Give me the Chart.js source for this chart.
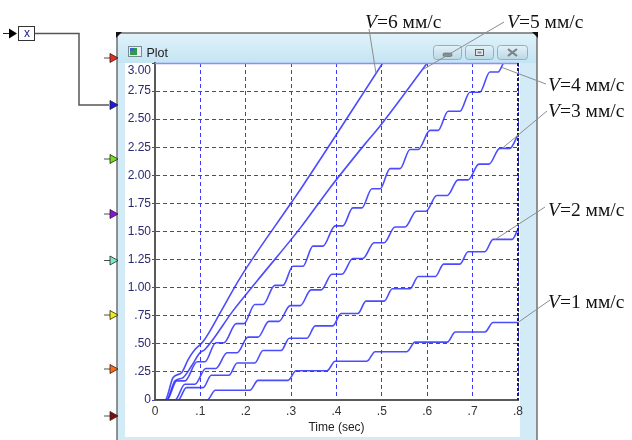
<!DOCTYPE html>
<html>
<head>
<meta charset="utf-8">
<script src="https://cdn.jsdelivr.net/npm/chart.js@4.4.0/dist/chart.umd.min.js"></script>
<style>
  html, body { margin: 0; padding: 0; background: #fff; }
  body { width: 632px; height: 440px; position: relative; overflow: hidden; font-family: "Liberation Sans", Arial, sans-serif; }
  #deco { position: absolute; left: 0; top: 0; z-index: 0; }
  #plot { position: absolute; left: 0; top: 0; z-index: 2; }
  .lbl { position: absolute; z-index: 3; white-space: nowrap; font-family: "Liberation Serif", "Times New Roman", serif; font-size: 19.5px; line-height: 20px; color: #111; }
  .txt { position: absolute; z-index: 3; white-space: nowrap; }
</style>
</head>
<body>
<svg id="deco" width="632" height="440">
  <defs>
    <linearGradient id="tbar" x1="0" y1="0" x2="0" y2="1">
      <stop offset="0" stop-color="#e0f2fa"/><stop offset="1" stop-color="#c4e4f2"/>
    </linearGradient>
    <linearGradient id="btn" x1="0" y1="0" x2="0" y2="1">
      <stop offset="0" stop-color="#e4f2f8"/><stop offset="1" stop-color="#b9d8e6"/>
    </linearGradient>
  </defs>
  <!-- source block -->
  <line x1="3" y1="33.5" x2="10" y2="33.5" stroke="#222" stroke-width="1"/>
  <polygon points="9,28.5 17,33.5 9,38.5" fill="#000"/>
  <rect x="18.5" y="26.5" width="16" height="14" fill="#fff" stroke="#333" stroke-width="1"/>
  <polyline points="34.5,33.5 79,33.5 79,105 109,105" fill="none" stroke="#555" stroke-width="1.5"/>
  <!-- scope window -->
  <rect x="117" y="33" width="420" height="420" fill="#d2ebf7" stroke="#707070" stroke-width="1.5"/>
  <rect x="118" y="34" width="418" height="29" fill="url(#tbar)"/>
  <rect x="125" y="63" width="395" height="374" fill="#fff"/>
  <polygon points="116,32 122,32 116,38" fill="#111"/>
  <polygon points="538,32 532,32 538,38" fill="#111"/>
  <!-- title icon -->
  <rect x="128.5" y="46.5" width="13" height="10" fill="#e8eef2" stroke="#7a8a94"/>
  <rect x="130" y="48" width="7" height="7" fill="#2f9a4a"/>
  <rect x="130" y="48" width="4" height="3" fill="#3a64c8"/>
  <!-- window buttons -->
  <rect x="433.5" y="45.5" width="28" height="14" rx="3" fill="url(#btn)" stroke="#8fb0c0"/>
  <rect x="443" y="53" width="9" height="3.5" rx="1.5" fill="#8a8f94" stroke="#5d6368" stroke-width="0.6"/>
  <rect x="465.5" y="45.5" width="28" height="14" rx="3" fill="url(#btn)" stroke="#8fb0c0"/>
  <rect x="475.5" y="49.5" width="8" height="6" fill="#e8e8e8" stroke="#5d6368"/>
  <rect x="477.5" y="51.5" width="4" height="2" fill="#8a8f94"/>
  <rect x="497.5" y="45.5" width="30" height="14" rx="3" fill="url(#btn)" stroke="#8fb0c0"/>
  <path d="M508 49 L517 56 M517 49 L508 56" stroke="#7d8387" stroke-width="2.2"/>
  <!-- input ports -->
  <g stroke="#222" stroke-width="0.8">
    <line x1="104" y1="58" x2="110" y2="58"/><polygon points="110,53.5 118,58 110,62.5" fill="#ee2a1a"/>
    <line x1="104" y1="105" x2="110" y2="105" stroke="none"/><polygon points="110,100.5 118,105 110,109.5" fill="#1a1ae6"/>
    <line x1="104" y1="159" x2="110" y2="159"/><polygon points="110,154.5 118,159 110,163.5" fill="#6fe01a"/>
    <line x1="104" y1="214" x2="110" y2="214"/><polygon points="110,209.5 118,214 110,218.5" fill="#8d10d8"/>
    <line x1="104" y1="260.5" x2="110" y2="260.5"/><polygon points="110,256 118,260.5 110,265" fill="#7fe8c8"/>
    <line x1="104" y1="315" x2="110" y2="315"/><polygon points="110,310.5 118,315 110,319.5" fill="#eeee10"/>
    <line x1="104" y1="369" x2="110" y2="369"/><polygon points="110,364.5 118,369 110,373.5" fill="#ff6a10"/>
    <line x1="104" y1="416" x2="110" y2="416"/><polygon points="110,411.5 118,416 110,420.5" fill="#8a0a0a"/>
  </g>
</svg>

<canvas id="plot" width="632" height="440"></canvas>

<div class="txt" style="left:24px;top:27px;font-size:12px;line-height:12px;color:#1a1a90;">x</div>
<div class="txt" style="left:146.5px;top:46.5px;font-size:12.5px;line-height:13px;color:#222;">Plot</div>

<div class="lbl" style="left:365px;top:11.5px;"><i>V</i>=6 мм/с</div>
<div class="lbl" style="left:507px;top:11.5px;"><i>V</i>=5 мм/с</div>
<div class="lbl" style="left:548px;top:75px;"><i>V</i>=4 мм/с</div>
<div class="lbl" style="left:548px;top:101px;"><i>V</i>=3 мм/с</div>
<div class="lbl" style="left:548px;top:199.5px;"><i>V</i>=2 мм/с</div>
<div class="lbl" style="left:548px;top:291.5px;"><i>V</i>=1 мм/с</div>

<script>
// scope traces: [time (sec), position]
const curveV1 = [[0,0],[0.115,0],[0.133,0.087],[0.209,0.087],[0.227,0.175],[0.293,0.175],[0.311,0.26],[0.379,0.26],[0.397,0.345],[0.467,0.345],[0.485,0.43],[0.555,0.43],[0.573,0.515],[0.644,0.515],[0.662,0.605],[0.727,0.605],[0.745,0.69],[0.8,0.69]];
const curveV2 = [[0,0],[0.051,0],[0.069,0.11],[0.106,0.11],[0.124,0.22],[0.163,0.22],[0.181,0.33],[0.220,0.33],[0.238,0.44],[0.278,0.44],[0.296,0.55],[0.335,0.55],[0.353,0.66],[0.392,0.66],[0.410,0.77],[0.447,0.77],[0.465,0.88],[0.505,0.88],[0.523,0.99],[0.562,0.99],[0.580,1.10],[0.618,1.10],[0.636,1.21],[0.672,1.21],[0.690,1.32],[0.727,1.32],[0.745,1.43],[0.787,1.43],[0.8,1.52]];
const curveV3 = [[0,0],[0.044,0],[0.066,0.14],[0.088,0.14],[0.112,0.28],[0.134,0.28],[0.159,0.42],[0.181,0.42],[0.205,0.56],[0.227,0.56],[0.251,0.70],[0.273,0.70],[0.298,0.84],[0.320,0.84],[0.344,0.98],[0.366,0.98],[0.390,1.12],[0.412,1.12],[0.436,1.26],[0.458,1.26],[0.483,1.40],[0.505,1.40],[0.529,1.54],[0.551,1.54],[0.576,1.68],[0.597,1.68],[0.621,1.82],[0.644,1.82],[0.668,1.96],[0.690,1.96],[0.714,2.10],[0.736,2.10],[0.760,2.24],[0.782,2.24],[0.8,2.36]];
const curveV4 = [[0,0],[0.026,0],[0.048,0.17],[0.066,0.17],[0.093,0.34],[0.110,0.34],[0.134,0.51],[0.152,0.51],[0.179,0.68],[0.196,0.68],[0.220,0.85],[0.238,0.85],[0.264,1.02],[0.282,1.02],[0.304,1.19],[0.326,1.19],[0.348,1.37],[0.370,1.37],[0.397,1.55],[0.414,1.55],[0.436,1.71],[0.456,1.71],[0.478,1.88],[0.496,1.88],[0.518,2.06],[0.540,2.06],[0.562,2.23],[0.580,2.23],[0.606,2.40],[0.624,2.40],[0.646,2.57],[0.672,2.57],[0.694,2.74],[0.716,2.74],[0.738,2.92],[0.756,2.92],[0.768,3.0]];
const curveV5 = [[0,0],[0.025,0],[0.044,0.17],[0.062,0.20],[0.080,0.30],[0.099,0.42],[0.110,0.45],[0.173,0.80],[0.227,1.07],[0.320,1.53],[0.386,1.89],[0.463,2.28],[0.496,2.44],[0.600,3.0]];
const curveV6 = [[0,0],[0.022,0],[0.040,0.20],[0.059,0.245],[0.073,0.36],[0.088,0.45],[0.106,0.52],[0.147,0.80],[0.185,1.07],[0.301,1.76],[0.323,1.89],[0.502,3.0]];

const seriesNames = ['V=1 мм/с', 'V=2 мм/с', 'V=3 мм/с', 'V=4 мм/с', 'V=5 мм/с', 'V=6 мм/с'];
const xTickLabels = ['0', '.1', '.2', '.3', '.4', '.5', '.6', '.7', '.8'];
const yTickLabels = ['0', '.25', '.50', '.75', '1.00', '1.25', '1.50', '1.75', '2.00', '2.25', '2.50', '2.75', '3.00'];

// where each callout line touches its trace
const leaderTargets = [[0.8, 0.69], [0.75, 1.43], [0.765, 2.24], [0.765, 2.96], [0.59, 2.94], [0.487, 2.91]];
// where each callout line leaves its label (page pixels)
const leaderStarts = [[550, 300], [545, 207], [547, 111], [546, 84], [504, 22], [369, 29]];

const curves = [curveV1, curveV2, curveV3, curveV4, curveV5, curveV6];
const gridBlue = '#3a3aff';
const tickFont = { family: '"Liberation Sans", Arial, sans-serif', size: 12 };

const scopeFrame = {
  id: 'scopeFrame',
  afterDraw(chart) {
    const { ctx, chartArea: a, scales: { x, y } } = chart;
    ctx.save();
    // top and right edges of the plot box
    ctx.strokeStyle = '#8d8dff';
    ctx.lineWidth = 1.5;
    ctx.beginPath(); ctx.moveTo(a.left, a.top + 0.5); ctx.lineTo(a.right, a.top + 0.5); ctx.stroke();
    ctx.strokeStyle = '#1e1e55';
    ctx.lineWidth = 2;
    ctx.setLineDash([3, 2]);
    ctx.beginPath(); ctx.moveTo(a.right, a.top); ctx.lineTo(a.right, a.bottom); ctx.stroke();
    ctx.setLineDash([]);
    // callout lines
    ctx.strokeStyle = '#8c8c8c';
    ctx.lineWidth = 1;
    leaderTargets.forEach(([t, v], i) => {
      const [sx, sy] = leaderStarts[i];
      ctx.beginPath();
      ctx.moveTo(sx, sy);
      ctx.lineTo(x.getPixelForValue(t), y.getPixelForValue(v));
      ctx.stroke();
    });
    ctx.restore();
  }
};

new Chart(document.getElementById('plot'), {
  type: 'line',
  data: {
    datasets: curves.map((pts, i) => ({
      label: seriesNames[i],
      data: pts.map(([t, v]) => ({ x: t, y: v })),
      borderColor: 'rgba(45,45,255,0.85)',
      borderWidth: 1.6,
      pointRadius: 0,
      fill: false,
      cubicInterpolationMode: 'monotone'
    }))
  },
  options: {
    responsive: false,
    animation: false,
    layout: { padding: { left: 118, right: 114, top: 63, bottom: 0 } },
    plugins: { legend: { display: false }, tooltip: { enabled: false } },
    scales: {
      x: {
        type: 'linear', min: 0, max: 0.8,
        afterFit: s => { s.height = 40; },
        ticks: { stepSize: 0.1, autoSkip: false, maxRotation: 0, padding: 4, color: '#333', font: tickFont,
                 callback: (v, i) => xTickLabels[i] },
        grid: { color: gridBlue, lineWidth: 1, drawTicks: false },
        border: { color: '#5a5a5a', width: 2, dash: [4, 3] },
        title: { display: true, text: 'Time (sec)', color: '#222', font: tickFont, padding: { top: 2, bottom: 5 } }
      },
      y: {
        min: 0, max: 3,
        afterFit: s => { s.width = 37; },
        ticks: { stepSize: 0.25, autoSkip: false, padding: 1, color: '#2a2a70', font: tickFont,
                 callback: (v, i) => i === yTickLabels.length - 1 ? ['', yTickLabels[i]] : yTickLabels[i] },
        grid: { color: gridBlue, lineWidth: 1, tickLength: 3, tickColor: gridBlue },
        border: { color: '#5a5a5a', width: 2, dash: [4, 3] }
      }
    }
  },
  plugins: [scopeFrame]
});
</script>
</body>
</html>
